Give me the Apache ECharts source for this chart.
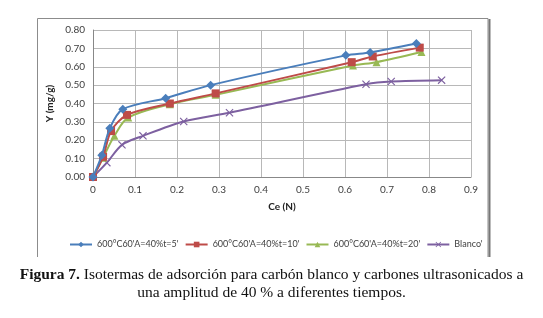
<!DOCTYPE html>
<html>
<head>
<meta charset="utf-8">
<script src="https://cdn.jsdelivr.net/npm/echarts@6/dist/echarts.min.js"></script>
<style>
  html, body { margin: 0; padding: 0; background: #fff; }
  #isotermas { width: 543px; height: 318px; }
</style>
</head>
<body>
<div id="isotermas"></div>
<script>
// valores
const seriesNames = ["600°C60'A=40%t=5'", "600°C60'A=40%t=10'", "600°C60'A=40%t=20'", "Blanco'"]

const ceT5 = [0, 0.021, 0.040, 0.071, 0.173, 0.280, 0.602, 0.660, 0.770]
const yT5 = [0, 0.118, 0.265, 0.369, 0.429, 0.500, 0.662, 0.678, 0.726]

const ceT10 = [0, 0.024, 0.043, 0.081, 0.183, 0.292, 0.616, 0.666, 0.778]
const yT10 = [0, 0.110, 0.250, 0.338, 0.400, 0.455, 0.625, 0.656, 0.704]

const ceT20 = [0, 0.024, 0.051, 0.084, 0.183, 0.292, 0.619, 0.675, 0.782]
const yT20 = [0, 0.105, 0.224, 0.324, 0.396, 0.447, 0.607, 0.625, 0.680]

const ceBlanco = [0, 0.033, 0.069, 0.119, 0.216, 0.325, 0.650, 0.710, 0.830]
const yBlanco = [0, 0.078, 0.175, 0.224, 0.302, 0.350, 0.505, 0.520, 0.527]

const colors = ['#4a7ebb', '#be4b48', '#98b954', '#7d60a0']
const symbols = ['diamond', 'rect', 'triangle',
  'path://M0,1L1,0L5,4L9,0L10,1L6,5L10,9L9,10L5,6L1,10L0,9L4,5Z']

const pairs = (xs, ys) => xs.map((x, i) => [x, ys[i]])
const allData = [pairs(ceT5, yT5), pairs(ceT10, yT10), pairs(ceT20, yT20), pairs(ceBlanco, yBlanco)]

let myChart = echarts.init(document.getElementById('isotermas'))
const axisFont = 'Lato, "Liberation Sans", sans-serif'
const serif = '"Liberation Serif", "DejaVu Serif", serif'

let option = {
  animation: false,
  color: colors,
  grid: { left: 93, right: 72, top: 30, bottom: 141, containLabel: false },
  legend: {
    top: 235,
    left: 64,
    itemWidth: 22,
    itemHeight: 7,
    itemGap: 6,
    data: seriesNames,
    textStyle: { fontFamily: axisFont, fontSize: 9, color: '#404040' }
  },
  xAxis: {
    type: 'value', min: 0, max: 0.9, interval: 0.1,
    name: 'Ce (N)', nameLocation: 'middle', nameGap: 25,
    nameTextStyle: { fontFamily: axisFont, fontSize: 10, fontWeight: 'bold', color: '#222' },
    axisLine: { lineStyle: { color: '#888' } },
    axisTick: { show: false },
    axisLabel: { fontFamily: axisFont, fontSize: 10, color: '#404040', margin: 8,
      formatter: v => +v.toFixed(1) + '' },
    splitLine: { show: true, lineStyle: { color: '#b8b8b8' } }
  },
  yAxis: {
    type: 'value', min: 0, max: 0.8, interval: 0.1,
    name: 'Y (mg/g)', nameLocation: 'middle', nameGap: 34, nameRotate: 90,
    nameTextStyle: { fontFamily: axisFont, fontSize: 10, fontWeight: 'bold', color: '#222' },
    axisLine: { show: true, lineStyle: { color: '#888' } },
    axisTick: { show: false },
    axisLabel: { fontFamily: axisFont, fontSize: 10, color: '#404040', margin: 8,
      formatter: v => v.toFixed(2) },
    splitLine: { show: true, lineStyle: { color: '#b8b8b8' } }
  },
  graphic: [
    { type: 'polyline', shape: { points: [[37.5, 257], [37.5, 18.5], [488, 18.5], [488, 257]] },
      style: { stroke: '#8c8c8c', lineWidth: 1, fill: null } },
    { type: 'line', shape: { x1: 489.5, y1: 19, x2: 489.5, y2: 257 },
      style: { stroke: '#777', lineWidth: 2 } },
    {
      type: 'text', left: 'center', top: 267,
      style: {
        text: '{b|Figura 7.} Isotermas de adsorción para carbón blanco y carbones ultrasonicados a',
        font: '15.5px ' + serif,
        fill: '#111',
        rich: { b: { fontFamily: serif, fontSize: 15.5, fontWeight: 'bold', fill: '#111' } }
      }
    },
    {
      type: 'text', left: 'center', top: 285,
      style: {
        text: 'una amplitud de 40 % a diferentes tiempos.',
        font: '15.5px ' + serif,
        fill: '#111'
      }
    }
  ],
  series: seriesNames.map((name, i) => ({
    name: name,
    type: 'line',
    smooth: 0.3,
    data: allData[i],
    symbol: symbols[i],
    symbolSize: i === 0 ? 9 : 8,
    showAllSymbol: true,
    lineStyle: { width: 2, color: colors[i] },
    itemStyle: { color: colors[i] },
    z: 10 - i
  }))
}

myChart.setOption(option, true)
</script>
</body>
</html>
